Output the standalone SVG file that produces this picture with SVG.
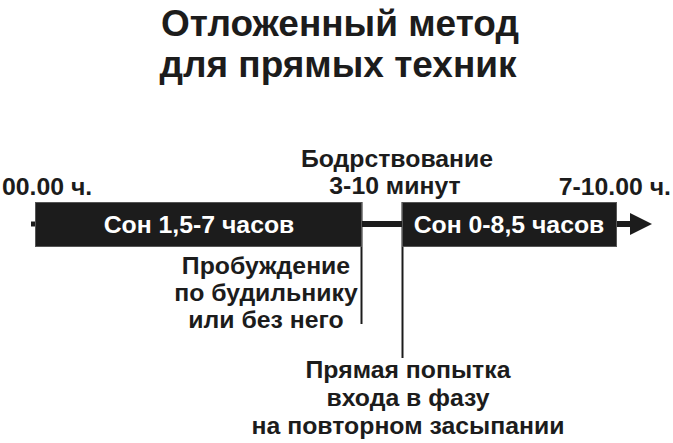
<svg xmlns="http://www.w3.org/2000/svg" width="673" height="443" viewBox="0 0 673 443">
<style>
text{font-family:"Liberation Sans",Arial,sans-serif;font-weight:bold;fill:#1c1c1c}
.t{font-size:37px;text-anchor:middle}
.l{font-size:24.8px}
.c{text-anchor:middle}
.w{fill:#ffffff}
.box{fill:#1c1c1c;stroke:#555;stroke-width:1}
.ln{stroke:#1c1c1c;fill:none}
</style>
<rect width="673" height="443" fill="#ffffff"/>
<g id="title">
<text class="t" x="340" y="36">Отложенный метод</text>
<text class="t" x="338" y="77">для прямых техник</text>
</g>
<g id="connectors">
<line class="ln" x1="31" y1="224" x2="36" y2="224" stroke-width="5"/>
<line class="ln" x1="361" y1="224" x2="402" y2="224" stroke-width="6"/>
<line class="ln" x1="616" y1="224" x2="632" y2="224" stroke-width="6"/>
<polygon points="630,213 652,224 630,235" fill="#1c1c1c"/>
<line class="ln" x1="361.5" y1="202" x2="361.5" y2="324" stroke-width="2"/>
<line class="ln" x1="402.5" y1="202" x2="402.5" y2="358" stroke-width="2"/>
</g>
<g id="sleep1">
<rect class="box" x="35.5" y="202.5" width="326" height="44"/>
<text class="l c w" x="199" y="233">Сон 1,5-7 часов</text>
</g>
<g id="sleep2">
<rect class="box" x="402.5" y="202.5" width="214" height="44"/>
<text class="l c w" x="509" y="233">Сон 0-8,5 часов</text>
</g>
<g id="start">
<text class="l" x="2" y="195">00.00 ч.</text>
</g>
<g id="end">
<text class="l" x="671" y="195" text-anchor="end">7-10.00 ч.</text>
</g>
<g id="wake">
<text class="l c" x="397" y="167">Бодрствование</text>
<text class="l c" x="395" y="194">3-10 минут</text>
</g>
<g id="awakening">
<text class="l c" x="266" y="274">Пробуждение</text>
<text class="l c" x="266" y="301">по будильнику</text>
<text class="l c" x="266" y="328">или без него</text>
</g>
<g id="attempt">
<text class="l c" x="408" y="378">Прямая попытка</text>
<text class="l c" x="408" y="406">входа в фазу</text>
<text class="l c" x="408" y="434">на повторном засыпании</text>
</g>
</svg>
